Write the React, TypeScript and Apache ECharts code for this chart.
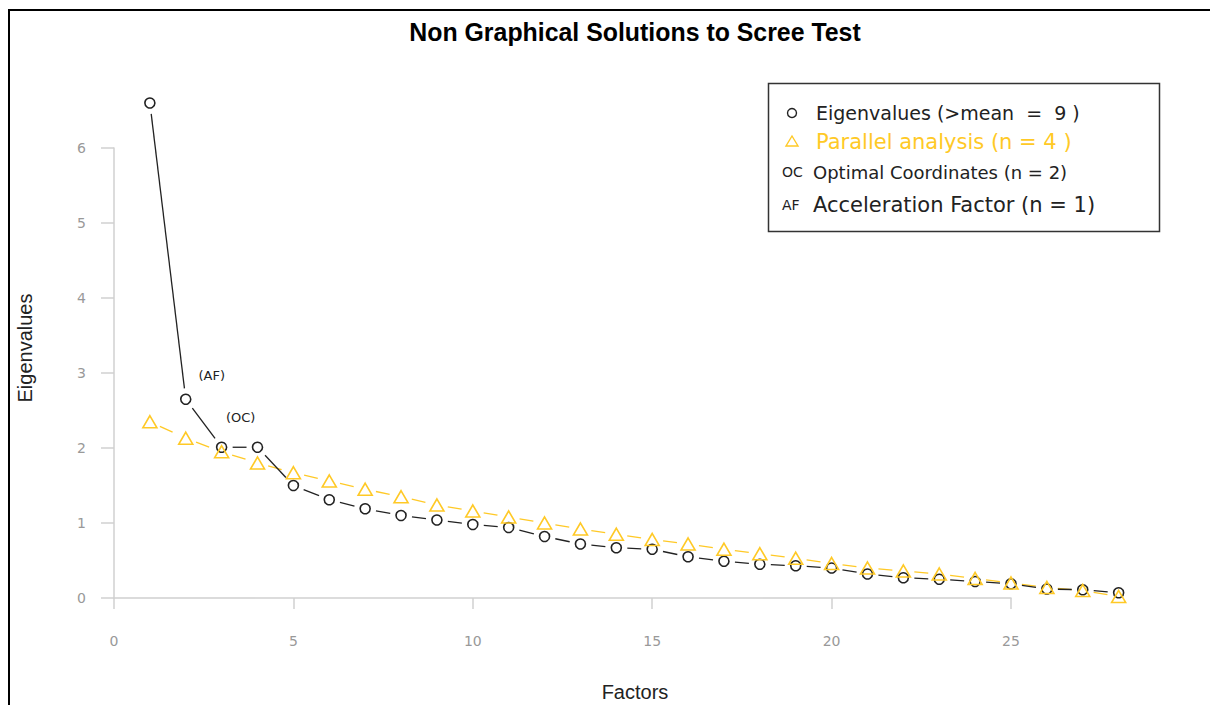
import React, { useEffect, useRef } from "react";
import * as echarts from "echarts";

// ---- data ----
const factors = [1, 2, 3, 4, 5, 6, 7, 8, 9, 10, 11, 12, 13, 14, 15, 16, 17, 18, 19, 20, 21, 22, 23, 24, 25, 26, 27, 28];
const eigenvalues = [6.6, 2.65, 2.01, 2.01, 1.5, 1.31, 1.19, 1.1, 1.04, 0.98, 0.94, 0.82, 0.72, 0.67, 0.65, 0.55, 0.49, 0.45, 0.43, 0.4, 0.32, 0.27, 0.25, 0.22, 0.19, 0.12, 0.11, 0.07];
const parallel = [2.35, 2.13, 1.95, 1.8, 1.67, 1.56, 1.45, 1.35, 1.24, 1.16, 1.08, 1.0, 0.92, 0.85, 0.78, 0.72, 0.65, 0.59, 0.53, 0.46, 0.4, 0.36, 0.32, 0.26, 0.2, 0.14, 0.1, 0.02];
const annotationFactors = [2, 3];
const annotationTexts = ["(AF)", "(OC)"];
const titleText = "Non Graphical Solutions to Scree Test";
const legendLabels = [
  "Eigenvalues (>mean  =  9 )",
  "Parallel analysis (n = 4 )",
  "Optimal Coordinates (n = 2)",
  "Acceleration Factor (n = 1)",
];
const legendMarks = ["OC", "AF"];
const xAxisTitle = "Factors";
const yAxisTitle = "Eigenvalues";

const DARK = "#222222";
const GOLD = "#FFC926";
const AXIS_GREY = "#d0d0d0";
const LABEL_GREY = "#999999";
const SANS = "DejaVu Sans, Verdana, sans-serif";
const ARIAL = "Liberation Sans, Arial, sans-serif";

function segments(values: number[]) {
  const out: number[][] = [];
  for (let i = 0; i < values.length - 1; i++) {
    out.push([factors[i], values[i], factors[i + 1], values[i + 1]]);
  }
  return out;
}

function gapRenderer(color: string, dash: number[] | null, gap: number) {
  return (params: any, api: any) => {
    const p1 = api.coord([api.value(0), api.value(1)]);
    const p2 = api.coord([api.value(2), api.value(3)]);
    const dx = p2[0] - p1[0];
    const dy = p2[1] - p1[1];
    const len = Math.sqrt(dx * dx + dy * dy);
    if (len <= 2 * gap) return null;
    const ux = dx / len;
    const uy = dy / len;
    const style: any = { stroke: color, lineWidth: 1.3, fill: null };
    if (dash) style.lineDash = dash;
    return {
      type: "line",
      shape: {
        x1: p1[0] + ux * gap,
        y1: p1[1] + uy * gap,
        x2: p2[0] - ux * gap,
        y2: p2[1] - uy * gap,
      },
      style,
    };
  };
}

export default function App() {
  const ref = useRef<HTMLDivElement>(null);

  useEffect(() => {
    if (!ref.current) return;
    const chart = echarts.init(ref.current, null, { renderer: "svg" });

    const eigenData = factors.map((f, i) => {
      const k = annotationFactors.indexOf(f);
      if (k < 0) return [f, eigenvalues[i]];
      return {
        value: [f, eigenvalues[i]],
        label: {
          show: true,
          formatter: annotationTexts[k],
          position: "top",
          offset: k === 0 ? [26, -6] : [19, -12],
          color: "#222",
          fontSize: 13,
          fontFamily: SANS,
        },
      };
    });

    const option: any = {
      animation: false,
      backgroundColor: "#ffffff",
      grid: [{ left: 114, top: 148, width: 897, height: 450 }],
      xAxis: [
        {
          type: "value",
          min: 0,
          max: 25,
          interval: 5,
          offset: 14,
          axisLine: { show: true, lineStyle: { color: AXIS_GREY, width: 1.5 } },
          axisTick: { show: true, length: 11, lineStyle: { color: AXIS_GREY, width: 1.5 } },
          axisLabel: { color: LABEL_GREY, fontSize: 14, margin: 22, fontFamily: SANS },
          splitLine: { show: false },
        },
      ],
      yAxis: [
        {
          type: "value",
          min: 0,
          max: 6,
          interval: 1,
          offset: 2,
          axisLine: { show: true, lineStyle: { color: AXIS_GREY, width: 1.5 } },
          axisTick: { show: true, length: 13, lineStyle: { color: AXIS_GREY, width: 1.5 } },
          axisLabel: { color: LABEL_GREY, fontSize: 14, margin: 26, fontFamily: SANS },
          splitLine: { show: false },
        },
      ],
      series: [
        {
          type: "custom",
          data: segments(parallel),
          encode: { x: [0, 2], y: [1, 3] },
          renderItem: gapRenderer(GOLD, [14, 5], 11),
          clip: false,
          silent: true,
          z: 2,
        },
        {
          type: "custom",
          data: segments(eigenvalues),
          encode: { x: [0, 2], y: [1, 3] },
          renderItem: gapRenderer(DARK, null, 11),
          clip: false,
          silent: true,
          z: 2,
        },
        {
          type: "scatter",
          symbol: "circle",
          symbolSize: 10,
          clip: false,
          itemStyle: { color: "rgba(0,0,0,0)", borderColor: DARK, borderWidth: 1.6, opacity: 1 },
          data: eigenData,
          z: 3,
        },
        {
          type: "scatter",
          symbol: "triangle",
          symbolSize: [14, 12],
          clip: false,
          itemStyle: { color: "rgba(0,0,0,0)", borderColor: GOLD, borderWidth: 1.6, opacity: 1 },
          data: factors.map((f, i) => [f, parallel[i]]),
          z: 4,
        },
      ],
      graphic: [
        {
          type: "rect",
          shape: { x: 9, y: 10, width: 1300, height: 800 },
          style: { fill: "none", stroke: "#000", lineWidth: 2 },
          silent: true,
        },
        {
          type: "text",
          x: 635,
          y: 32,
          scaleX: 0.957,
          style: {
            text: titleText,
            fill: "#000",
            font: "bold 26px " + ARIAL,
            textAlign: "center",
            textVerticalAlign: "middle",
          },
        },
        {
          type: "text",
          x: 635,
          y: 692,
          style: {
            text: xAxisTitle,
            fill: "#222",
            font: "20px " + ARIAL,
            textAlign: "center",
            textVerticalAlign: "middle",
          },
        },
        {
          type: "text",
          x: 25,
          y: 348,
          rotation: Math.PI / 2,
          style: {
            text: yAxisTitle,
            fill: "#222",
            font: "20px " + ARIAL,
            textAlign: "center",
            textVerticalAlign: "middle",
          },
        },
        {
          type: "rect",
          shape: { x: 768.5, y: 83.5, width: 391, height: 148 },
          style: { fill: "#fff", stroke: "#333", lineWidth: 1.5 },
          z: 10,
        },
        {
          type: "circle",
          shape: { cx: 792, cy: 113, r: 4.5 },
          style: { fill: "none", stroke: DARK, lineWidth: 1.4 },
          z: 11,
        },
        {
          type: "text",
          x: 816,
          y: 113,
          style: { text: legendLabels[0], fill: "#222", font: "19px " + SANS, textVerticalAlign: "middle" },
          z: 11,
        },
        {
          type: "polygon",
          shape: { points: [[792, 136], [798, 146], [786, 146]] },
          style: { fill: "none", stroke: GOLD, lineWidth: 1.4 },
          z: 11,
        },
        {
          type: "text",
          x: 816,
          y: 142,
          style: { text: legendLabels[1], fill: GOLD, font: "21px " + SANS, textVerticalAlign: "middle" },
          z: 11,
        },
        {
          type: "text",
          x: 782,
          y: 172,
          style: { text: legendMarks[0], fill: "#222", font: "14px " + SANS, textVerticalAlign: "middle" },
          z: 11,
        },
        {
          type: "text",
          x: 813,
          y: 172,
          style: { text: legendLabels[2], fill: "#222", font: "18px " + SANS, textVerticalAlign: "middle" },
          z: 11,
        },
        {
          type: "text",
          x: 782,
          y: 205,
          style: { text: legendMarks[1], fill: "#222", font: "14px " + SANS, textVerticalAlign: "middle" },
          z: 11,
        },
        {
          type: "text",
          x: 813,
          y: 205,
          style: { text: legendLabels[3], fill: "#222", font: "21px " + SANS, textVerticalAlign: "middle" },
          z: 11,
        },
      ],
    };

    chart.setOption(option);
    return () => chart.dispose();
  }, []);

  return (
    <div
      ref={ref}
      style={{ position: "absolute", left: 0, top: 0, width: 1210, height: 705, background: "#fff" }}
    />
  );
}
